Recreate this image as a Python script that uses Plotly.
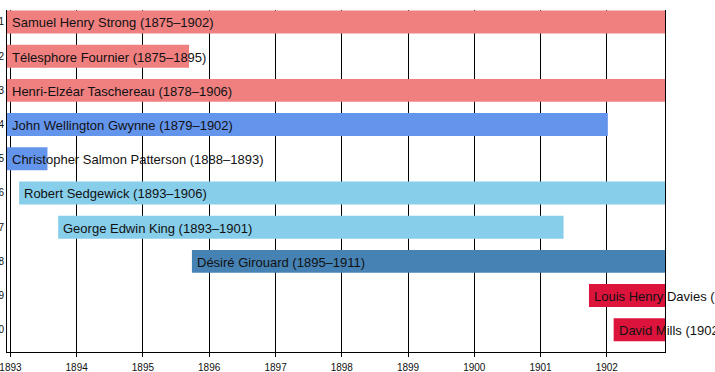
import plotly.graph_objects as go
import pandas as pd

names = ["Samuel Henry Strong (1875–1902)",
         "Télesphore Fournier (1875–1895)",
         "Henri-Elzéar Taschereau (1878–1906)",
         "John Wellington Gwynne (1879–1902)",
         "Christopher Salmon Patterson (1888–1893)",
         "Robert Sedgewick (1893–1906)",
         "George Edwin King (1893–1901)",
         "Désiré Girouard (1895–1911)",
         "Louis Henry Davies (1901–1924)",
         "David Mills (1902–1903)"]
starts = ["1875-09-30", "1875-09-30", "1878-10-07", "1879-01-14", "1888-10-27",
          "1893-02-18", "1893-09-21", "1895-09-28", "1901-09-25", "1902-02-08"]
ends = ["1902-11-18", "1895-09-12", "1906-05-02", "1902-01-07", "1893-07-24",
        "1906-08-04", "1901-05-08", "1911-03-22", "1924-05-01", "1903-05-08"]
colors = ["#F08080", "#F08080", "#F08080", "#6495ED", "#6495ED",
          "#87CEEB", "#87CEEB", "#4682B4", "#DC143C", "#DC143C"]
rows = list(range(1, 11))
row_labels = [str(r) for r in rows]
range_start = "1892-12-13"
range_end = "1902-11-18"

s = pd.to_datetime(starts)
e = pd.to_datetime(ends)
dur_ms = [(b - a).total_seconds() * 1000 for a, b in zip(s, e)]

fig = go.Figure(go.Bar(
    orientation="h",
    base=starts,
    x=dur_ms,
    y=rows,
    width=0.67,
    marker=dict(color=colors, line=dict(width=0)),
    hoverinfo="skip",
))

rs = pd.Timestamp(range_start)
for name, st, r in zip(names, s, rows):
    ax = max(st, rs)
    fig.add_annotation(x=ax.strftime("%Y-%m-%d"), y=r, text=name, showarrow=False,
                       xanchor="left", yanchor="middle", xshift=3, yshift=-1,
                       font=dict(family="Liberation Sans, Arial, sans-serif", size=13, color="#111"))

fig.update_layout(
    width=715, height=372,
    margin=dict(l=7, r=50, t=10, b=20),
    plot_bgcolor="white", paper_bgcolor="white",
    showlegend=False,
    font=dict(family="Liberation Sans, Arial, sans-serif", size=10, color="#111"),
    xaxis=dict(type="date", range=[range_start, range_end], tick0="1893-01-01", dtick="M12",
               tickformat="%Y", showgrid=True, gridcolor="black", gridwidth=1,
               showline=True, linecolor="black", linewidth=1, ticks="outside", ticklen=4,
               tickcolor="black", zeroline=False, tickfont=dict(size=10), automargin=False,
               ticklabeloverflow="allow", ticklabelstandoff=2),
    yaxis=dict(range=[10.65, 0.65], tickvals=rows, ticktext=row_labels, showgrid=False,
               showline=True, mirror=True, linecolor="black", linewidth=1, zeroline=False,
               ticks="", tickfont=dict(size=10), automargin=False, ticklabeloverflow="allow"),
)

fig.write_html("out.html", config={"displayModeBar": False},
               post_script="document.body.style.margin='0';")
